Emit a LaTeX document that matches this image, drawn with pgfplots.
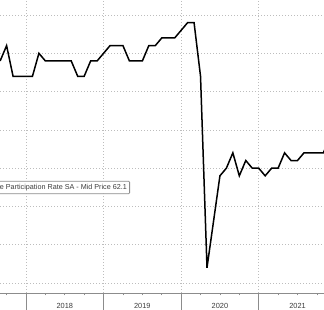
\documentclass[border=0pt]{standalone}
\usepackage{pgfplots}
\pgfplotsset{compat=1.18}
\usepackage{fontspec}
\setmainfont{Liberation Sans}
\definecolor{gridc}{HTML}{BDBDBD}
\definecolor{axc}{HTML}{8C8C8C}
\definecolor{txtc}{HTML}{3C3C3C}
\begin{document}
\begin{tikzpicture}
\begin{axis}[
  name=ax,
  scale only axis,
  width=324pt, height=293pt,
  xmin=-4.02, xmax=46.1,
  ymin=59.870, ymax=63.696,
  axis x line*=bottom, axis y line*=left,
  x axis line style={axc, line width=0.8pt},
  y axis line style={draw=none},
  ytick={60,60.5,...,63.5}, yticklabels={},
  ytick style={draw=none},
  xtick={0,12,24,36},
  xticklabels={2018,2019,2020,2021},
  minor xtick={-3,3,6,9,15,18,21,27,30,33,39,42,45},
  tick align=outside,
  major tick length=17pt,
  minor tick length=2.5pt,
  xtick style={axc, line width=0.6pt},
  xmajorgrids, ymajorgrids,
  major grid style={gridc, line width=0.6pt, dash pattern=on 1pt off 2pt},
  xticklabel style={font=\fontsize{7.4}{8}\selectfont, text=txtc, xshift=38.8pt, yshift=10pt},
  clip=true,
]
\addplot[black, line width=1.5pt] coordinates {
(-4,62.9) (-3,63.1) (-2,62.7) (-1,62.7) (0,62.7) (1,62.7) (2,63.0) (3,62.9)
(4,62.9) (5,62.9) (6,62.9) (7,62.9) (8,62.7) (9,62.7) (10,62.9) (11,62.9)
(12,63.0) (13,63.1) (14,63.1) (15,63.1) (16,62.9) (17,62.9) (18,62.9) (19,63.1)
(20,63.1) (21,63.2) (22,63.2) (23,63.2) (24,63.3) (25,63.4) (26,63.4) (27,62.7)
(28,60.2) (29,60.8) (30,61.4) (31,61.5) (32,61.7) (33,61.4) (34,61.6) (35,61.5)
(36,61.5) (37,61.4) (38,61.5) (39,61.5) (40,61.7) (41,61.6) (42,61.6) (43,61.7)
(44,61.7) (45,61.7) (46,61.7) (47,61.9)
};
\end{axis}
\node[anchor=east, draw=axc, fill=white, line width=0.8pt, rounded corners=1pt,
  minimum width=150pt, minimum height=12.5pt, inner sep=0pt]
  at ([yshift=-187.5pt,xshift=130pt]ax.north west) {};
\node[anchor=east, font=\fontsize{7.2}{8}\selectfont, text=txtc, inner sep=0pt]
  at ([yshift=-187.5pt,xshift=127pt]ax.north west) {e Participation Rate SA - Mid Price 62.1};
\pgfresetboundingbox
\path[use as bounding box] (ax.south west) ++(0pt,-17pt) rectangle (ax.north east);
\end{tikzpicture}
\end{document}
